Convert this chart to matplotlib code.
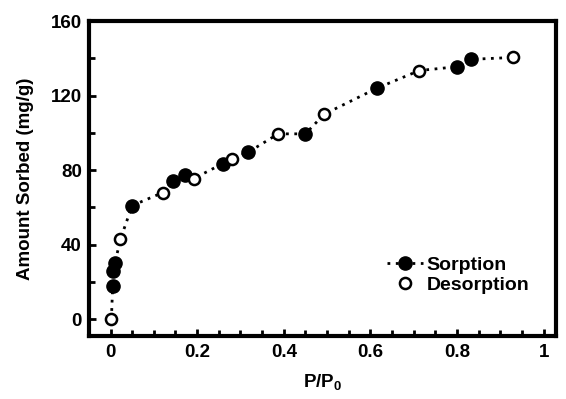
import matplotlib
matplotlib.use("Agg")
import matplotlib.pyplot as plt
from matplotlib.lines import Line2D
from matplotlib.ticker import MultipleLocator

plt.rcParams['font.family'] = ['Liberation Sans', 'DejaVu Sans']
plt.rcParams['font.weight'] = 'bold'
plt.rcParams['mathtext.fontset'] = 'custom'
plt.rcParams['mathtext.bf'] = 'Liberation Sans:bold'
plt.rcParams['mathtext.rm'] = 'Liberation Sans:bold'

sorption_x = [0.005, 0.006, 0.010, 0.050, 0.144, 0.171, 0.259, 0.317, 0.450, 0.615, 0.799, 0.832]
sorption_y = [18, 26, 30, 61, 74, 77.5, 83.5, 89.5, 99.5, 124, 135.5, 139.5]
desorption_x = [0.002, 0.023, 0.121, 0.192, 0.280, 0.387, 0.493, 0.713, 0.929]
desorption_y = [0, 43, 68, 75.5, 86, 99.5, 110, 133.5, 140.5]
x_ticks = [0, 0.2, 0.4, 0.6, 0.8, 1.0]
x_tick_labels = ['0', '0.2', '0.4', '0.6', '0.8', '1']
y_ticks = [0, 40, 80, 120, 160]

fig = plt.figure(figsize=(5.66, 3.99), dpi=100)
ax = fig.add_axes([0.157, 0.158, 0.825, 0.789])

pts = sorted(zip(sorption_x + desorption_x, sorption_y + desorption_y))
ax.plot([p[0] for p in pts], [p[1] for p in pts], linestyle=(0, (1, 2)),
        color='black', linewidth=2.0, zorder=1)
ax.plot(sorption_x, sorption_y, 'o', color='black', markersize=9.5, zorder=3)
ax.plot(desorption_x, desorption_y, 'o', markerfacecolor='white',
        markeredgecolor='black', markersize=8, markeredgewidth=1.8, zorder=3)

ax.set_xlim(-0.05, 1.028)
ax.set_ylim(-9, 160)
ax.set_xticks(x_ticks)
ax.set_xticklabels(x_tick_labels)
ax.set_yticks(y_ticks)
ax.xaxis.set_minor_locator(MultipleLocator(0.05))
ax.yaxis.set_minor_locator(MultipleLocator(20))
ax.tick_params(which='both', direction='in', width=2, labelsize=13.5)
ax.tick_params(axis='x', which='both', pad=6)
ax.tick_params(axis='y', which='both', pad=5)
ax.tick_params(which='major', length=5)
ax.tick_params(which='minor', length=4)
for lab in ax.get_xticklabels() + ax.get_yticklabels():
    lab.set_fontweight('bold')
for s in ax.spines.values():
    s.set_linewidth(3)

ax.set_xlabel(r'P/P$_\mathbf{0}$', fontsize=13.5, fontweight='bold', labelpad=8)
ax.set_ylabel('Amount Sorbed (mg/g)', fontsize=13.5, fontweight='bold', labelpad=12)

handles = [
    Line2D([], [], linestyle=(0, (1, 2)), color='black', linewidth=2, marker='o',
           markersize=9.5, markerfacecolor='black'),
    Line2D([], [], linestyle='none', marker='o', markersize=8,
           markerfacecolor='white', markeredgecolor='black', markeredgewidth=1.8),
]
ax.legend(handles, ['Sorption', 'Desorption'], loc='center left',
          bbox_to_anchor=(0.6, 0.193), frameon=False,
          handlelength=1.9, handletextpad=0.15, labelspacing=0.15,
          prop={'weight': 'bold', 'size': 14})

fig.savefig('out.png', dpi=100)
